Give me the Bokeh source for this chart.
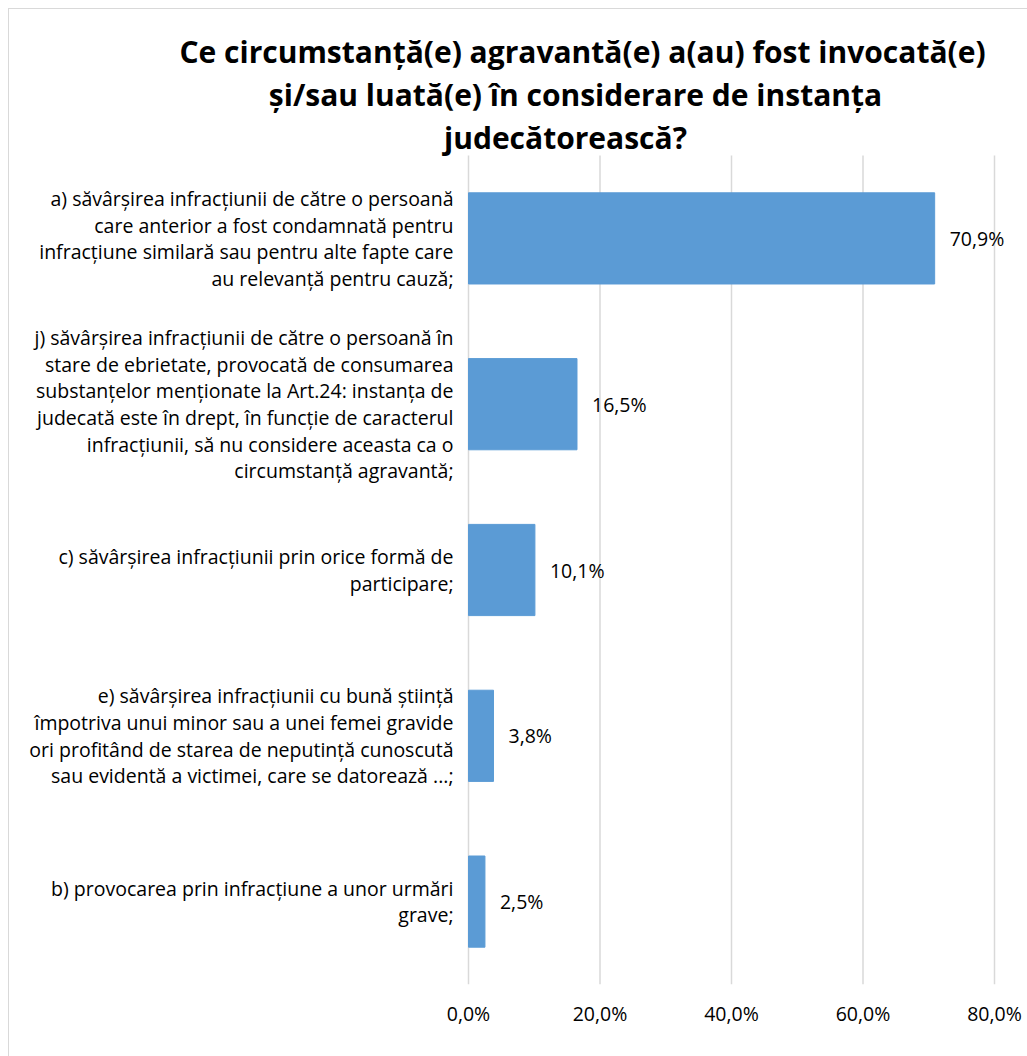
from bokeh.plotting import figure
from bokeh.models import ColumnDataSource, Range1d, FixedTicker
from bokeh.core.properties import value
from bokeh.embed import file_html
from bokeh.resources import INLINE

# ---- data ----
title_lines = [
    "Ce circumstanță(e) agravantă(e) a(au) fost invocată(e)",
    "și/sau luată(e) în considerare de instanța",
    "judecătorească?",
]
categories = [
    "a) săvârșirea infracțiunii de către o persoană\ncare anterior a fost condamnată pentru\ninfracțiune similară sau pentru alte fapte care\nau relevanță pentru cauză;",
    "j) săvârșirea infracțiunii de către o persoană în\nstare de ebrietate, provocată de consumarea\nsubstanțelor menționate la Art.24: instanța de\njudecată este în drept, în funcție de caracterul\ninfracțiunii, să nu considere aceasta ca o\ncircumstanță agravantă;",
    "c) săvârșirea infracțiunii prin orice formă de\nparticipare;",
    "e) săvârșirea infracțiunii cu bună știință\nîmpotriva unui minor sau a unei femei gravide\nori profitând de starea de neputință cunoscută\nsau evidentă a victimei, care se datorează ...;",
    "b) provocarea prin infracțiune a unor urmări\ngrave;",
]
values = [70.9, 16.5, 10.1, 3.8, 2.5]
value_labels = ["70,9%", "16,5%", "10,1%", "3,8%", "2,5%"]
tick_values = [0, 20, 40, 60, 80]
tick_labels = ["0,0%", "20,0%", "40,0%", "60,0%", "80,0%"]

# ---- layout constants (pixels) ----
FONT = "Open Sans"
BAR = "#5B9BD5"
GRID = "#D9D9D9"
W, H = 1018, 1047          # canvas size
PLOT_LEFT = 459            # canvas px where x = 0
PLOT_TOP = 146             # canvas px of plot-area top
PLOT_BOTTOM = 975          # canvas px of plot-area bottom
PX_PER = 6.575             # px per percent
N = len(categories)
SLOT = (PLOT_BOTTOM - PLOT_TOP) / N
LINE_H = 26.6


def dx(px):
    return px / PX_PER


def dy(px):
    return px / SLOT


p = figure(
    x_range=Range1d(-dx(PLOT_LEFT), dx(W - PLOT_LEFT)),
    y_range=Range1d(0, dy(PLOT_BOTTOM)),
    frame_width=W, frame_height=PLOT_BOTTOM,
    min_border_left=0, min_border_right=0,
    min_border_top=0, min_border_bottom=H - PLOT_BOTTOM,
    output_backend="svg", toolbar_location=None,
    background_fill_color="white", border_fill_color="white",
)
p.styles = {"margin-left": "8px", "margin-top": "8px",
            "border-left": "1px solid #D9D9D9", "border-top": "1px solid #D9D9D9"}
p.outline_line_color = None
p.grid.visible = False
p.yaxis.visible = False

# category slot centres (top first)
ycen = [N - 0.5 - i for i in range(N)]

# gridlines at the ticks, spanning the plot area only
p.segment(x0=tick_values, x1=tick_values, y0=[0] * len(tick_values), y1=[N] * len(tick_values),
          line_color=GRID, line_width=1.5)

src = ColumnDataSource(dict(y=ycen, val=values, lab=value_labels,
                            lx=[v + dx(15) for v in values]))
p.hbar(y="y", right="val", left=0, height=0.55, source=src,
       fill_color=BAR, line_color=BAR)
p.text(x="lx", y="y", text="lab", source=src, text_align="left", text_baseline="middle",
       text_font=value(FONT), text_font_size=value("19.5px"), text_color="#000000")

# category labels, one row per text line
rows = dict(x=[], y=[], txt=[])
for c, yc in zip(categories, ycen):
    lines = c.split("\n")
    n = len(lines)
    for i, ln in enumerate(lines):
        rows["x"].append(-dx(15))
        rows["y"].append(yc + dy(((n - 1) / 2 - i) * LINE_H))
        rows["txt"].append(ln)
p.text(x="x", y="y", text="txt", source=ColumnDataSource(rows),
       text_align="right", text_baseline="middle",
       text_font=value(FONT), text_font_size=value("19.5px"), text_color="#000000")

# title lines (centre px relative to x=0, baseline px above plot top)
tsrc = ColumnDataSource(dict(
    x=[dx(c) for c in [114, 107, 97]],
    y=[N + dy(b) for b in [104, 61, 18]],
    t=title_lines))
p.text(x="x", y="y", text="t", source=tsrc, text_align="center", text_baseline="alphabetic",
       text_font=value(FONT), text_font_style="bold", text_font_size=value("30px"),
       text_color="#000000")

p.xaxis.ticker = FixedTicker(ticks=tick_values)
p.xaxis.major_label_overrides = dict(zip(tick_values, tick_labels))
p.xaxis.axis_line_color = None
p.xaxis.major_tick_line_color = None
p.xaxis.minor_tick_line_color = None
p.xaxis.major_tick_out = 0
p.xaxis.major_tick_in = 0
p.xaxis.major_label_standoff = 15
p.xaxis.major_label_text_font = FONT
p.xaxis.major_label_text_font_size = "19.5px"
p.xaxis.major_label_text_color = "#000000"

open("out.html", "w").write(file_html(p, INLINE))
